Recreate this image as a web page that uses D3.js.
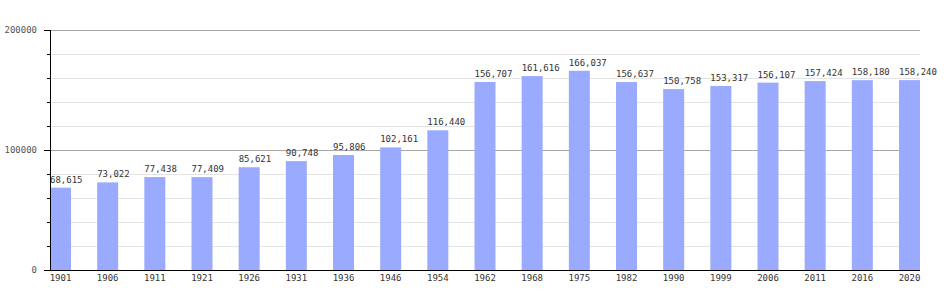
<!DOCTYPE html>
<html>
<head>
<meta charset="utf-8">
<script src="https://cdn.jsdelivr.net/npm/d3@7"></script>
<style>
  body { margin: 0; background: #fff; }
  text { font-family: "DejaVu Sans Mono", monospace; font-size: 9px; fill: #444; }
</style>
</head>
<body>
<div id="chart"></div>
<script>
const years = ['1901', '1906', '1911', '1921', '1926', '1931', '1936', '1946', '1954', '1962',
  '1968', '1975', '1982', '1990', '1999', '2006', '2011', '2016', '2020'];
const population = [68615, 73022, 77438, 77409, 85621, 90748, 95806, 102161, 116440, 156707,
  161616, 166037, 156637, 150758, 153317, 156107, 157424, 158180, 158240];
const majorTicks = [0, 100000, 200000];
const minorTicks = [20000, 40000, 60000, 80000, 120000, 140000, 160000, 180000];

const width = 950, height = 300;
const margin = { top: 30, left: 50, right: 30, bottom: 30 };

const svg = d3.select('#chart').append('svg')
  .attr('width', width).attr('height', height);

const x = d3.scaleBand()
  .domain(years)
  .range([margin.left, width - margin.right])
  .paddingInner(0.555)
  .paddingOuter(0)
  .align(0);

const y = d3.scaleLinear()
  .domain([0, 200000])
  .range([height - margin.bottom, margin.top]);

// grid lines
svg.append('g').selectAll('line').data(minorTicks).enter().append('line')
  .attr('x1', margin.left).attr('x2', width - margin.right)
  .attr('y1', d => y(d) + 0.5).attr('y2', d => y(d) + 0.5)
  .attr('stroke', '#e4e4e4');

svg.append('g').selectAll('line').data(majorTicks.filter(d => d > 0)).enter().append('line')
  .attr('x1', margin.left).attr('x2', width - margin.right)
  .attr('y1', d => y(d) + 0.5).attr('y2', d => y(d) + 0.5)
  .attr('stroke', '#a8a8a8');

// bars
svg.append('g').selectAll('rect').data(population).enter().append('rect')
  .attr('x', (d, i) => x(years[i]))
  .attr('y', d => y(d))
  .attr('width', x.bandwidth())
  .attr('height', d => y(0) - y(d))
  .attr('fill', '#99aaff');

// value labels
svg.append('g').selectAll('text').data(population).enter().append('text')
  .attr('x', (d, i) => x(years[i]))
  .attr('y', d => y(d) - 5)
  .style('fill', '#333')
  .text(d => d3.format(',')(d));

// y axis: minor ticks short, major ticks longer
const yMinor = d3.axisLeft(y).tickValues(minorTicks).tickSize(3).tickFormat('');
const ym = svg.append('g')
  .attr('transform', 'translate(' + margin.left + ',0)')
  .call(yMinor);
ym.select('.domain').remove();
ym.selectAll('.tick line').attr('stroke', '#000');

const yMajor = d3.axisLeft(y).tickValues(majorTicks).tickSize(6).tickPadding(7)
  .tickFormat(d3.format('d'));
const yg = svg.append('g')
  .attr('transform', 'translate(' + margin.left + ',0)')
  .call(yMajor);
yg.select('.domain').remove();
yg.selectAll('text').style('fill', '#555');
yg.selectAll('.tick line').attr('stroke', '#000');

svg.append('line')
  .attr('x1', margin.left + 0.5).attr('x2', margin.left + 0.5)
  .attr('y1', y(200000)).attr('y2', y(0))
  .attr('stroke', '#000');

const xAxis = d3.axisBottom(x).tickSize(0).tickPadding(5);
const xg = svg.append('g')
  .attr('transform', 'translate(0,' + y(0) + ')')
  .call(xAxis);
xg.select('.domain').remove();
xg.selectAll('text').style('fill', '#333');

svg.append('line')
  .attr('x1', margin.left).attr('x2', width - margin.right)
  .attr('y1', y(0) + 0.5).attr('y2', y(0) + 0.5)
  .attr('stroke', '#000');
</script>
</body>
</html>
